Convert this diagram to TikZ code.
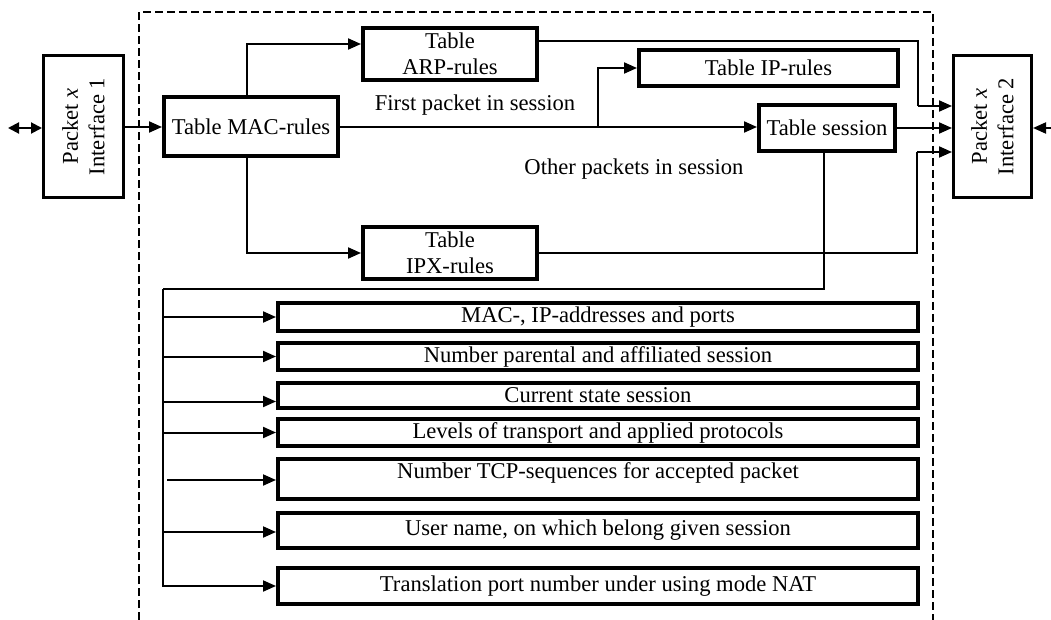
\documentclass[tikz,border=0pt]{standalone}
\usepackage{fontspec}
\setmainfont{Liberation Serif}
\usetikzlibrary{arrows.meta,calc}
\begin{document}
\begin{tikzpicture}[x=1pt,y=-1pt,
  every node/.style={font=\fontsize{22.6}{26.5}\selectfont},
  tbl/.style={draw, line width=4pt, inner sep=0pt, align=center},
  iface/.style={draw, line width=3pt, inner sep=0pt, align=center, rotate=90},
  lst/.style={draw, line width=4pt, inner sep=0pt, minimum width=640pt},
  wire/.style={line width=2pt},
  arr/.style={wire, -{Triangle[length=13pt,width=11pt]}},
  darr/.style={wire, {Triangle[length=11pt,width=11pt]}-{Triangle[length=11pt,width=11pt]}},
  frame/.style={line width=1.8pt, dash pattern=on 8pt off 4pt}]
\useasboundingbox (0,0) rectangle (1051,620);

% dashed boundary of the filter
\draw[frame] (139,620) -- (139,12) -- (933,12) -- (933,620);

% interfaces (rotated: north is the left side, south the right side)
\node[iface, minimum width=142pt, minimum height=80pt] (if1) at (83.5,126.5) {Packet \textit{x}\\Interface 1};
\node[iface, minimum width=142pt, minimum height=78pt] (if2) at (992.5,126.5) {Packet \textit{x}\\Interface 2};

% rule tables
\node[tbl, minimum width=174pt, minimum height=59pt] (mac) at (251,127) {Table MAC-rules};
\node[tbl, minimum width=174pt, minimum height=52pt] (arp) at (450,54) {Table\\ARP-rules};
\node[tbl, minimum width=259pt, minimum height=36pt] (ip) at (768.5,68) {Table IP-rules};
\node[tbl, minimum width=136pt, minimum height=46pt] (sess) at (827,128) {Table session};
\node[tbl, minimum width=174pt, minimum height=52pt] (ipx) at (450,253) {Table\\IPX-rules};

% labels on the main path
\node (first) at (475,105) {First packet in session};
\node (other) at (634,169) {Other packets in session};

% session record fields
\node[lst, minimum height=28pt] (l1) at (598,317) {MAC-, IP-addresses and ports};
\node[lst, minimum height=27pt] (l2) at (598,356.5) {Number parental and affiliated session};
\node[lst, minimum height=25pt] (l3) at (598,395.5) {Current state session};
\node[lst, minimum height=27pt] (l4) at (598,432.5) {Levels of transport and applied protocols};
\node[lst, minimum height=40pt] (l5) at (598,479) {};
\node (l5t) at (598,473) {Number TCP-sequences for accepted packet};
\node[lst, minimum height=35pt] (l6) at (598,530.5) {User name, on which belong given session};
\node[lst, minimum height=36pt] (l7) at (598,586) {Translation port number under using mode NAT};

% bend points
\coordinate (lin) at (8,128);
\coordinate (rin) at (1051,128);
\coordinate (jIP) at (598,127);
\coordinate (jA) at (918,106);
\coordinate (jB) at (917,152);
\coordinate (jC) at (163,289);

% outer ports
\draw[darr] (lin) -- (lin -| if1.north);
\draw[arr] (rin) -- (rin -| if2.south);

% packet flow
\draw[arr] (if1.south |- mac.west) -- (mac.west);
\draw[arr] ([xshift=-4pt]mac.north) |- ($(arp.west)+(0,-10)$);
\draw[arr] ([xshift=-4pt]mac.south) |- (ipx.west);
\draw[arr] (mac.east) -- (mac.east -| sess.west);
\draw[arr] (jIP) |- (ip.west);
\draw[wire] ($(arp.east)+(0,-13)$) -| (jA);
\draw[arr] (jA) -- (jA -| if2.north);
\draw[arr] (sess.east) -- (sess.east -| if2.north);
\draw[wire] (ipx.east) -| (jB);
\draw[arr] (jB) -- (jB -| if2.north);

% session table fields
\draw[wire] ([xshift=-3pt]sess.south) |- (jC);
\draw[arr] (jC) |- (l7.west);
\draw[arr] (jC |- l1.west) -- (l1.west);
\draw[arr] (jC |- l2.west) -- (l2.west);
\draw[arr] ($(jC |- l3.west)+(0,6)$) -- ($(l3.west)+(0,6)$);
\draw[arr] (jC |- l4.west) -- (l4.west);
\draw[arr] ($(jC |- l5.west)+(4,1)$) -- ($(l5.west)+(0,1)$);
\draw[arr] ($(jC |- l6.west)+(0,1.5)$) -- ($(l6.west)+(0,1.5)$);
\end{tikzpicture}
\end{document}
